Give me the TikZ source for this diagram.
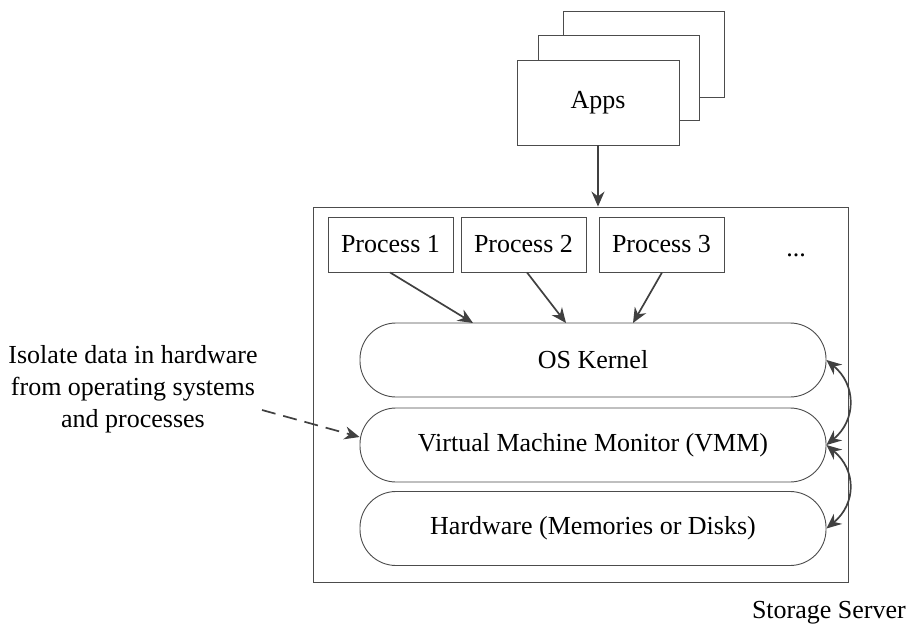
\documentclass[tikz,border=0pt]{standalone}
\usepackage{fontspec}
\setmainfont{Liberation Serif}
\usetikzlibrary{arrows.meta}
\begin{document}
\begin{tikzpicture}[x=1pt,y=-1pt,
  every node/.style={font=\fontsize{26}{32}\selectfont},
  box/.style={draw=black!70,line width=0.9pt,fill=white,inner sep=0pt},
  layer/.style={box,rounded corners=36pt,minimum width=466pt,minimum height=74pt},
  procbox/.style={box,minimum width=125pt,minimum height=55pt},
  arr/.style={draw=black!75,line width=1.7pt,-{Stealth[length=15pt,width=13pt]}},
  darr/.style={draw=black!75,line width=1.7pt,{Stealth[length=15pt,width=13pt]}-{Stealth[length=15pt,width=13pt]}}]
\useasboundingbox (0,0) rectangle (909,626);

% stacked application windows
\node[box,minimum width=161pt,minimum height=86pt] (appsback) at (643.5,54) {};
\node[box,minimum width=161pt,minimum height=85pt] (appsmid) at (618.5,77.5) {};
\node[box,minimum width=162pt,minimum height=85pt] (apps) at (598,102.5) {Apps};

% server frame
\node[draw=black!70,line width=0.9pt,minimum width=535pt,minimum height=375pt,inner sep=0pt] (server) at (580.5,394.5) {};
\node[anchor=base east,inner sep=1pt] (servlabel) at (907,618) {Storage Server};

% processes
\node[procbox] (p1) at (390.5,244.5) {Process 1};
\node[procbox] (p2) at (523.5,244.5) {Process 2};
\node[procbox] (p3) at (661.5,244.5) {Process 3};
\node[anchor=base] (dots) at (796,256) {...};

% software / hardware layers
\node[layer] (kernel) at (593,360) {OS Kernel};
\node[layer] (vmm) at (593,445) {Virtual Machine Monitor (VMM)};
\node[layer] (hw) at (593,528.5) {Hardware (Memories or Disks)};

% connectors
\draw[arr] (apps.south) -- (server.north -| apps.south);
\coordinate (k1) at (473,323);
\coordinate (k2) at (566,323);
\coordinate (k3) at (633,323);
\draw[arr] (p1.south -| 390,0) -- (k1);
\draw[arr] (p2.south -| 527,0) -- (k2);
\draw[arr] (p3.south -| 662,0) -- (k3);

\draw[darr] (kernel.east) .. controls +(30,25) and +(30,-25) .. (vmm.east);
\draw[darr] (vmm.east) .. controls +(30,25) and +(30,-25) .. (hw.east);

% annotation
\node[align=center] (note) at (133,389) {Isolate data in hardware\\from operating systems\\and processes};
\coordinate (ns) at (262,410);
\draw[draw=black!75,line width=1.7pt,dash pattern=on 14pt off 8pt,-{Stealth[length=15pt,width=13pt]}] (ns) -- (vmm.west |- 0,437);
\end{tikzpicture}
\end{document}
